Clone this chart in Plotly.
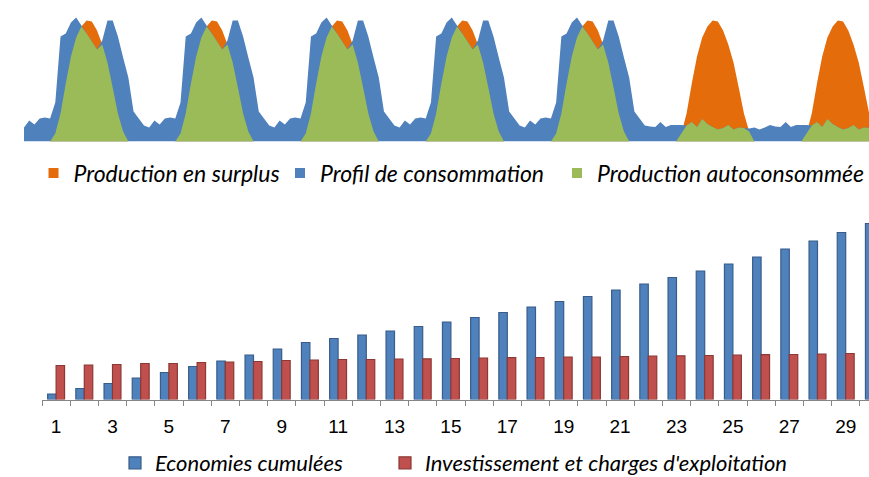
import plotly.graph_objects as go

# ---------------- Top chart: hourly profiles over one week ----------------
weekday_production = [0, 0, 0, 0, 0, 0, 8, 28, 58, 85, 104, 115, 121, 120, 111, 97, 79, 54, 28, 10, 0, 0, 0, 0]
weekend_production = [0, 0, 0, 0, 0, 0, 8, 28, 58, 85, 104, 115, 121, 120, 111, 97, 79, 54, 28, 10, 0, 0, 0, 0]
weekday_consumption = [14, 21, 17, 23, 24, 23, 39, 105, 108, 119, 124, 116, 108, 100, 92, 101, 121, 121, 105, 84, 64, 30, 23, 16]
weekend_consumption = [15, 14.5, 19.5, 14.5, 16.5, 16.5, 16.5, 16, 19.5, 14.5, 22.5, 17.5, 14.5, 12, 13.5, 16.5, 12, 14, 13.5, 13, 14, 12, 14, 16.5]
weekday_selfconsumed = [0, 0, 0, 0, 0, 0, 8, 28, 58, 85, 104, 115, 108, 100, 92, 97, 79, 54, 28, 10, 0, 0, 0, 0]
weekend_selfconsumed = [0, 0, 0, 0, 0, 0, 8, 16, 19.5, 14.5, 22.5, 17.5, 14.5, 12, 13.5, 16.5, 12, 14, 13.5, 10, 0, 0, 0, 0]

week_days = ["lun", "mar", "mer", "jeu", "ven", "sam", "dim"]
weekend_days = {"sam", "dim"}

production, consumption, selfconsumed = [], [], []
for d in week_days:
    if d in weekend_days:
        production += weekend_production
        consumption += weekend_consumption
        selfconsumed += weekend_selfconsumed
    else:
        production += weekday_production
        consumption += weekday_consumption
        selfconsumed += weekday_selfconsumed
hours = list(range(len(production)))

# ---------------- Bottom chart: yearly cumulated values ----------------
years = list(range(1, 31))
economies_cumulees = [5.5, 11, 16, 21.5, 27, 33, 38.5, 44.5, 50.5, 57, 61, 64.5, 68.5, 73, 77.5,
                      82, 87, 92.5, 98, 103, 109.5, 115.5, 122, 128.5, 135.5, 142.5, 150.5, 158.5, 167, 176]
investissement = [34, 34.5, 35, 36, 36, 37, 37.5, 38, 39, 39.5, 40, 40, 40.5, 40.7, 41,
                  41.5, 41.8, 42, 42.5, 42.5, 43, 43.3, 43.7, 44, 44.5, 44.8, 45, 45.5, 46, 46.3]
tick_years = [1, 3, 5, 7, 9, 11, 13, 15, 17, 19, 21, 23, 25, 27, 29]
tick_labels = ["1", "3", "5", "7", "9", "11", "13", "15", "17", "19", "21", "23", "25", "27", "29"]

ORANGE = "#E46C0A"
BLUE = "#4F81BD"
GREEN = "#9BBB59"
BAR_BLUE = "#4F81BD"
BAR_BLUE_LINE = "#385D8A"
BAR_RED = "#C0504D"
BAR_RED_LINE = "#8C3836"

W, H = 869, 477
LEG_FONT = dict(family="Lato, 'Liberation Sans', sans-serif", size=23, color="#000000", style="italic")
LEG_FONT_BOTTOM = dict(family="Lato, 'Liberation Sans', sans-serif", size=22, color="#000000", style="italic")

fig = go.Figure()

# Area traces (drawn in order: production behind, consumption, then self-consumed on top)
fig.add_trace(go.Scatter(x=hours, y=production, mode="none", fill="tozeroy", fillcolor=ORANGE,
                         name="Production en surplus", showlegend=False, xaxis="x", yaxis="y"))
fig.add_trace(go.Scatter(x=hours, y=consumption, mode="none", fill="tozeroy", fillcolor=BLUE,
                         name="Profil de consommation", showlegend=False, xaxis="x", yaxis="y"))
fig.add_trace(go.Scatter(x=hours, y=selfconsumed, mode="none", fill="tozeroy", fillcolor=GREEN,
                         name="Production autoconsommée", showlegend=False, xaxis="x", yaxis="y"))

# Legend entries for the area chart (square swatches)
for name, col, leg in [("Production en surplus", ORANGE, "legend"),
                       ("Profil de consommation", BLUE, "legend2"),
                       ("Production autoconsommée", GREEN, "legend3")]:
    fig.add_trace(go.Scatter(x=[None], y=[None], mode="markers", name=name,
                             marker=dict(symbol="square", size=10, color=col),
                             legend=leg, xaxis="x", yaxis="y"))

# Bars
fig.add_trace(go.Bar(x=years, y=economies_cumulees, name="Economies cumulées",
                     marker=dict(color=BAR_BLUE, line=dict(color=BAR_BLUE_LINE, width=1.2)),
                     xaxis="x2", yaxis="y2", legend="legend4"))
fig.add_trace(go.Bar(x=years, y=investissement, name="Investissement et charges d'exploitation",
                     marker=dict(color=BAR_RED, line=dict(color=BAR_RED_LINE, width=1.2)),
                     xaxis="x2", yaxis="y2", legend="legend5"))

px_per_hour = 5.217
top_left = 24
cat_w = 28.2
bot_left = 42
base_top = 141.5
base_bot = 399.5

def leg(xpix, ypix, font):
    return dict(x=xpix / W, y=1 - ypix / H, xanchor="left", yanchor="middle",
                orientation="h", font=font, bgcolor="rgba(0,0,0,0)", borderwidth=0,
                itemsizing="trace")

fig.update_layout(
    width=W, height=H,
    margin=dict(l=0, r=0, t=0, b=0, autoexpand=False),
    paper_bgcolor="white", plot_bgcolor="white",
    barmode="group", bargap=0.4, bargroupgap=0.0,
    xaxis=dict(domain=[top_left / W, 1], range=[0, (W - top_left) / px_per_hour],
               visible=False, fixedrange=True),
    yaxis=dict(domain=[1 - base_top / H, 1 - 10 / H], range=[0, base_top - 10],
               visible=False),
    xaxis2=dict(domain=[bot_left / W, 1], range=[0.5, 0.5 + (W - bot_left) / cat_w],
                anchor="y2", showline=True, linecolor="#868686", linewidth=1,
                showgrid=False, zeroline=False,
                tickmode="array", tickvals=tick_years, ticktext=tick_labels, ticks="",
                ticklabelstandoff=10,
                tickfont=dict(family="'Liberation Sans', Arial, sans-serif", size=19, color="#000000"),
                minor=dict(tick0=0.5, dtick=1, ticks="outside", ticklen=5, tickcolor="#868686",
                           tickwidth=1, showgrid=False)),
    yaxis2=dict(domain=[1 - base_bot / H, 1 - 215 / H], range=[0, base_bot - 215],
                anchor="x2", visible=False),
    legend=leg(73.5 - 40, 173, LEG_FONT),
    legend2=leg(320 - 40, 173, LEG_FONT),
    legend3=leg(597 - 40, 173, LEG_FONT),
    legend4=leg(155 - 40, 463, LEG_FONT_BOTTOM),
    legend5=leg(425 - 40, 463, LEG_FONT_BOTTOM),
)

fig.write_html(
    "out.html",
    config={"displayModeBar": False},
    post_script="document.body.style.margin='0';document.body.style.overflow='hidden';",
)
